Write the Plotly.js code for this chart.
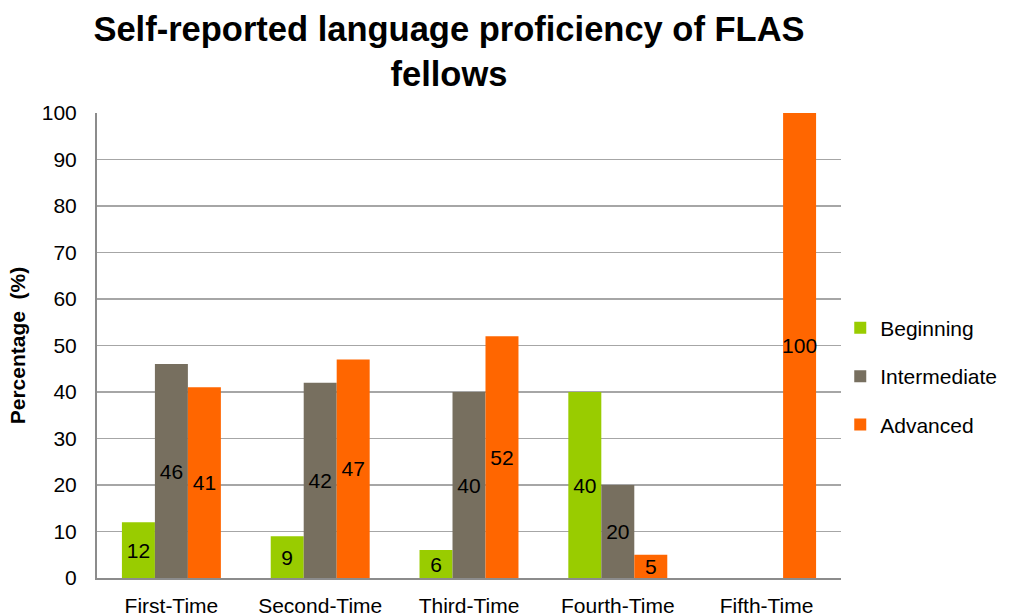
<!DOCTYPE html>
<html><head><meta charset="utf-8">
<script src="https://cdn.plot.ly/plotly-3.0.1.min.js"></script>
<style>html,body{margin:0;padding:0;background:#fff}#chart{width:1009px;height:616px}</style>
</head><body><div id="chart"></div>
<script>
var categories = ["First-Time", "Second-Time", "Third-Time", "Fourth-Time", "Fifth-Time"];
var beginning = [12, 9, 6, 40, null];
var intermediate = [46, 42, 40, 20, null];
var advanced = [41, 47, 52, 5, 100];
var yTicks = [0, 10, 20, 30, 40, 50, 60, 70, 80, 90, 100];

var font = "Liberation Sans, Arial, sans-serif";
function mk(name, vals, color, grp) {
  return {
    type: "bar", name: name, x: categories, y: vals,
    marker: {color: color, line: {width: 0}},
    text: vals.map(function(v){ return v === null ? "" : String(v); }),
    textposition: "inside", insidetextanchor: "middle", textangle: 0,
    constraintext: "none", cliponaxis: false,
    textfont: {family: font, size: 21, color: "#000"},
    legendgroup: grp, hoverinfo: "x+y+name"
  };
}
var data = [
  mk("Beginning", beginning, "#99CC00", "a"),
  mk("Intermediate", intermediate, "#776F5F", "b"),
  mk("Advanced", advanced, "#FF6600", "c")
];
var layout = {
  width: 1009, height: 616,
  margin: {l: 97, r: 168, t: 113, b: 38, autoexpand: false},
  paper_bgcolor: "#fff", plot_bgcolor: "#fff",
  barmode: "group", bargap: 0.335, bargroupgap: 0,
  title: {text: "<b>Self-reported language proficiency of FLAS<br>fellows</b>",
          font: {family: font, size: 34.5, color: "#000"},
          x: 0.445, xanchor: "center", y: 0.933, yanchor: "middle", yref: "container"},
  xaxis: {showgrid: false, showline: true, linecolor: "#8C8C8C", linewidth: 2,
          ticks: "", tickfont: {family: font, size: 21, color: "#000"},
          ticklabelstandoff: 8, fixedrange: true},
  yaxis: {range: [0, 100], tickvals: yTicks, ticktext: yTicks.map(String),
          showgrid: true, gridcolor: "#A6A6A6", gridwidth: 1.5,
          showline: true, linecolor: "#8C8C8C", linewidth: 2, zeroline: false,
          ticks: "", tickfont: {family: font, size: 21, color: "#000"},
          ticklabelstandoff: 14,
          title: {text: "<b>Percentage  (%)</b>", font: {family: font, size: 21, color: "#000"}, standoff: 10},
          fixedrange: true},
  legend: {x: 0.999, xanchor: "left", y: 0.434, yanchor: "middle",
           font: {family: font, size: 21, color: "#000"},
           traceorder: "grouped", tracegroupgap: 18, itemwidth: 30,
           bgcolor: "rgba(0,0,0,0)"},
  showlegend: true
};
Plotly.newPlot("chart", data, layout, {displayModeBar: false, staticPlot: true});
</script></body></html>
